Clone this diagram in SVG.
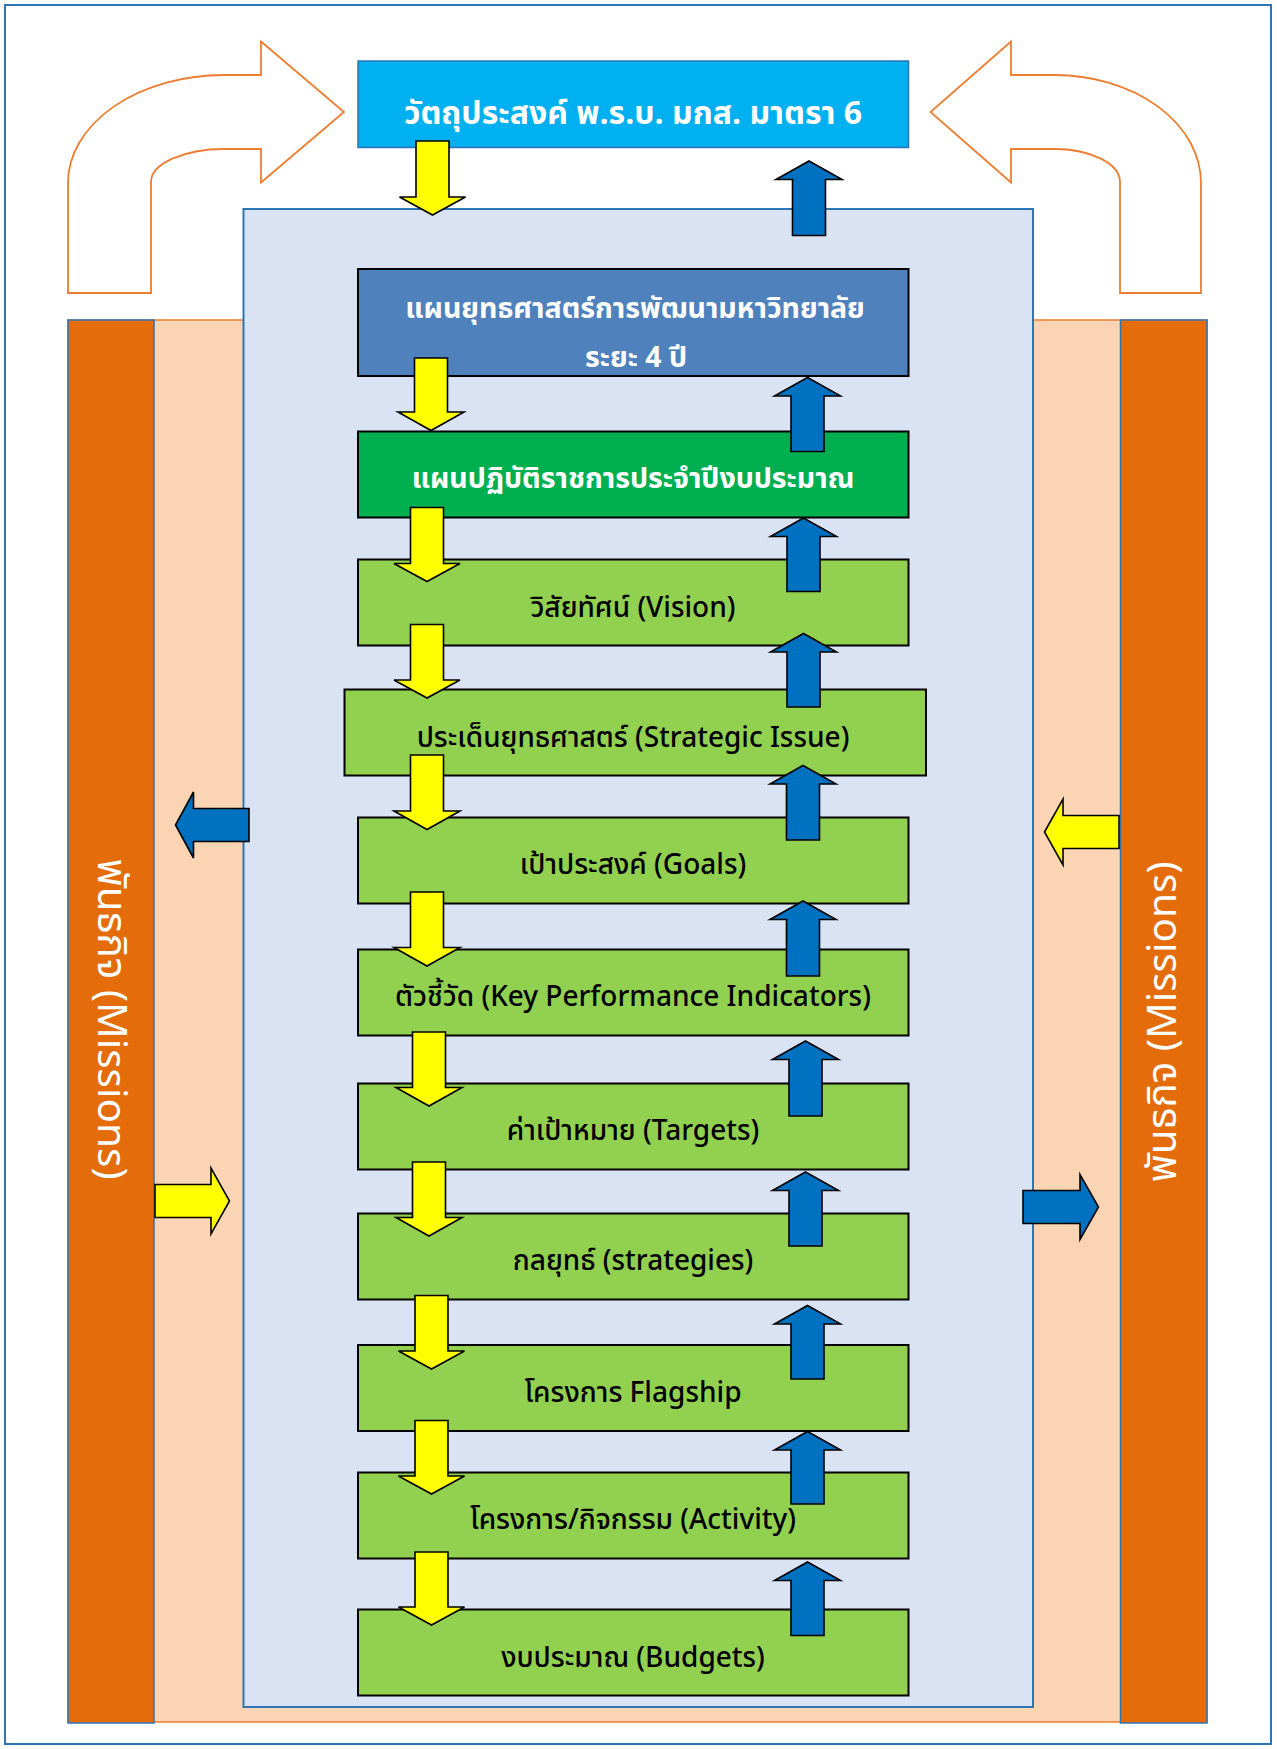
<svg xmlns="http://www.w3.org/2000/svg" width="1277" height="1749" viewBox="0 0 1277 1749">
<style>
.t{font-family:"Noto Sans Thai","Tahoma","DejaVu Sans","Noto Sans",sans-serif;text-anchor:middle;}
.w{fill:#FFFFFF;font-size:28.5px;font-weight:bold;}
.top{font-size:32px;}
.b{fill:#000000;font-size:28px;font-weight:500;}
.side{fill:#FFFFFF;font-size:40.5px;font-weight:normal;}
.box{stroke:#000000;stroke-width:2;}
.lg{fill:#92D050;}
.ya{fill:#FFFF00;stroke:#000000;stroke-width:1.6;stroke-linejoin:miter;}
.ba{fill:#0070C0;stroke:#000000;stroke-width:1.6;stroke-linejoin:miter;}
.curve{fill:#FFFFFF;stroke:#ED7D31;stroke-width:1.8;}
.col{fill:#E46C0A;stroke:#2E75B6;stroke-width:1.5;}
</style>
<rect x="0" y="0" width="1277" height="1749" fill="#FFFFFF"/>
<rect x="5" y="5" width="1266" height="1739" fill="#FFFFFF" stroke="#2E75B6" stroke-width="2"/>

<g id="curve-left">
<path class="curve" d="M68,293 L68,183 A156,108 0 0 1 224,75 L261,75 L261,41.5 L344,112 L261,182.5 L261,149 L224,149 A73,33 0 0 0 151,182 L151,293 Z"/>
</g>
<g id="curve-right">
<path class="curve" d="M1201,293 L1201,183 A146.5,108 0 0 0 1054.5,75 L1011,75 L1011,41.5 L930.5,112 L1011,182.5 L1011,149 L1054.5,149 A65.5,33 0 0 1 1120,182 L1120,293 Z"/>
</g>

<g id="band">
<rect x="68" y="320" width="1139" height="1402" fill="#FBD4B4" stroke="#ED7D31" stroke-width="1.5"/>
</g>
<g id="mission-left">
<rect class="col" x="68" y="320" width="86" height="1403"/>
<text class="t side" transform="translate(111,1019) rotate(90)" y="13">พันธกิจ (Missions)</text>
</g>
<g id="mission-right">
<rect class="col" x="1120.5" y="320" width="86.5" height="1403"/>
<text class="t side" transform="translate(1163,1022) rotate(-90)" y="13">พันธกิจ (Missions)</text>
</g>

<g id="container">
<rect x="243.5" y="209" width="789.5" height="1498" fill="#DAE3F3" stroke="#2E75B6" stroke-width="2"/>
</g>

<g id="objective">
<rect x="358" y="61" width="550.5" height="86.5" fill="#00B0F0" stroke="#2E75B6" stroke-width="1.5"/>
<text class="t w top" x="633" y="124">วัตถุประสงค์ พ.ร.บ. มกส. มาตรา 6</text>
</g>
<g id="strategic-plan">
<rect class="box" x="358" y="269" width="550.5" height="107" fill="#4F81BD"/>
<text class="t w" x="635" y="318">แผนยุทธศาสตร์การพัฒนามหาวิทยาลัย</text>
<text class="t w" x="636" y="367">ระยะ 4 ปี</text>
</g>
<g id="action-plan">
<rect class="box" x="358" y="431.5" width="550.5" height="86" fill="#00B050"/>
<text class="t w" x="633" y="488">แผนปฏิบัติราชการประจำปีงบประมาณ</text>
</g>
<g id="vision">
<rect class="box lg" x="358" y="559.5" width="550.5" height="86"/>
<text class="t b" x="633" y="617">วิสัยทัศน์ (Vision)</text>
</g>
<g id="strategic-issue">
<rect class="box lg" x="344.5" y="689.5" width="581.5" height="86"/>
<text class="t b" x="633" y="747">ประเด็นยุทธศาสตร์ (Strategic Issue)</text>
</g>
<g id="goals">
<rect class="box lg" x="358" y="817.5" width="550.5" height="86"/>
<text class="t b" x="633" y="874">เป้าประสงค์ (Goals)</text>
</g>
<g id="kpi">
<rect class="box lg" x="358" y="949.5" width="550.5" height="86"/>
<text class="t b" x="633" y="1006">ตัวชี้วัด (Key Performance Indicators)</text>
</g>
<g id="targets">
<rect class="box lg" x="358" y="1083.5" width="550.5" height="86"/>
<text class="t b" x="633" y="1140">ค่าเป้าหมาย (Targets)</text>
</g>
<g id="strategies">
<rect class="box lg" x="358" y="1213.5" width="550.5" height="86"/>
<text class="t b" x="633" y="1270">กลยุทธ์ (strategies)</text>
</g>
<g id="flagship">
<rect class="box lg" x="358" y="1345" width="550.5" height="86"/>
<text class="t b" x="633" y="1402">โครงการ Flagship</text>
</g>
<g id="activity">
<rect class="box lg" x="358" y="1472.5" width="550.5" height="86"/>
<text class="t b" x="633" y="1529">โครงการ/กิจกรรม (Activity)</text>
</g>
<g id="budgets">
<rect class="box lg" x="358" y="1609.5" width="550.5" height="86"/>
<text class="t b" x="633" y="1667">งบประมาณ (Budgets)</text>
</g>

<g id="connectors">
<polygon class="ya" points="416,141 449,141 449,197 465.5,197 432.5,215 399.5,197 416,197"/>
<polygon class="ya" points="414.5,358 447.5,358 447.5,412 464,412 431,430.5 398,412 414.5,412"/>
<polygon class="ya" points="410.5,507.5 443.5,507.5 443.5,563.5 460,563.5 427,581.5 394,563.5 410.5,563.5"/>
<polygon class="ya" points="410.5,624.5 443.5,624.5 443.5,680 460,680 427,698 394,680 410.5,680"/>
<polygon class="ya" points="410.5,755 443.5,755 443.5,811 460,811 427,829.5 394,811 410.5,811"/>
<polygon class="ya" points="410.5,892 443.5,892 443.5,947.5 460,947.5 427,966 394,947.5 410.5,947.5"/>
<polygon class="ya" points="412.5,1032 445.5,1032 445.5,1087.5 462,1087.5 429,1106 396,1087.5 412.5,1087.5"/>
<polygon class="ya" points="412.5,1162 445.5,1162 445.5,1217.5 462,1217.5 429,1236 396,1217.5 412.5,1217.5"/>
<polygon class="ya" points="415,1295.5 448,1295.5 448,1351 464.5,1351 431.5,1369 398.5,1351 415,1351"/>
<polygon class="ya" points="415,1420.5 448,1420.5 448,1476 464.5,1476 431.5,1494 398.5,1476 415,1476"/>
<polygon class="ya" points="415,1552 448,1552 448,1607 464.5,1607 431.5,1625 398.5,1607 415,1607"/>

<polygon class="ba" points="809,161 842,179.5 825.5,179.5 825.5,235.5 792.5,235.5 792.5,179.5 776,179.5"/>
<polygon class="ba" points="807.5,377.5 840.5,396 824,396 824,451.5 791,451.5 791,396 774.5,396"/>
<polygon class="ba" points="803.5,518 836.5,536.5 820,536.5 820,591.5 787,591.5 787,536.5 770.5,536.5"/>
<polygon class="ba" points="803.5,633.5 836.5,652 820,652 820,707 787,707 787,652 770.5,652"/>
<polygon class="ba" points="803,765.5 836,784 819.5,784 819.5,840 786.5,840 786.5,784 770,784"/>
<polygon class="ba" points="803,901 836,919.5 819.5,919.5 819.5,976 786.5,976 786.5,919.5 770,919.5"/>
<polygon class="ba" points="805.5,1041 838.5,1059.5 822,1059.5 822,1116 789,1116 789,1059.5 772.5,1059.5"/>
<polygon class="ba" points="805.5,1172 838.5,1190.5 822,1190.5 822,1246 789,1246 789,1190.5 772.5,1190.5"/>
<polygon class="ba" points="807.5,1305.5 840.5,1324 824,1324 824,1379 791,1379 791,1324 774.5,1324"/>
<polygon class="ba" points="807.5,1431.5 840.5,1450 824,1450 824,1504 791,1504 791,1450 774.5,1450"/>
<polygon class="ba" points="807.5,1562 840.5,1580.5 824,1580.5 824,1635.5 791,1635.5 791,1580.5 774.5,1580.5"/>

<polygon class="ba" points="175.5,825 193.5,792 193.5,808.5 249,808.5 249,841.5 193.5,841.5 193.5,858"/>
<polygon class="ya" points="155,1184.5 211,1184.5 211,1168 229.5,1201 211,1234 211,1217.5 155,1217.5"/>
<polygon class="ya" points="1044.5,832 1063,799 1063,815.5 1119,815.5 1119,848.5 1063,848.5 1063,865"/>
<polygon class="ba" points="1023,1190.5 1080,1190.5 1080,1174.5 1098.5,1207 1080,1239.5 1080,1223.5 1023,1223.5"/>
</g>
</svg>
